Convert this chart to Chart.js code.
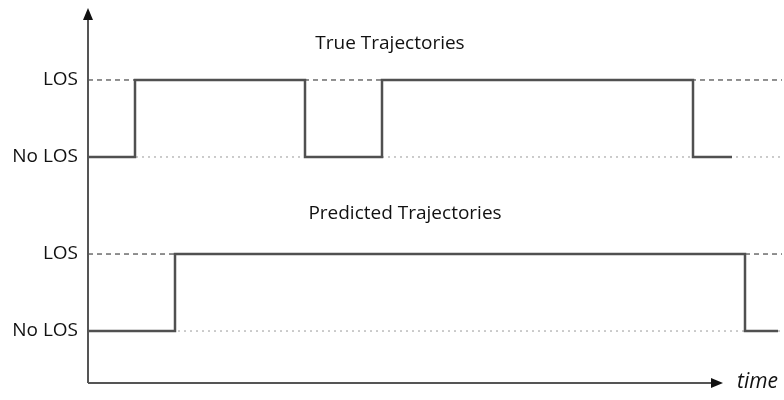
<!DOCTYPE html>
<html>
<head>
<meta charset="utf-8">
<title>True vs Predicted Trajectories</title>
<script src="https://cdn.jsdelivr.net/npm/chart.js@4.4.0/dist/chart.umd.min.js"></script>
<style>
  html, body { margin: 0; padding: 0; background: #fff; }
  #wrap { width: 784px; height: 400px; }
</style>
</head>
<body>
<div id="wrap"><canvas id="trajChart" width="784" height="400"></canvas></div>
<script>
// state levels (bottom band = predicted, top band = true)
const levelValues = [0, 1, 2.26, 3.26];
const levelLabels = ['No LOS', 'LOS', 'No LOS', 'LOS'];

// true trajectory: time where each state starts, and the state
const trueTimes = [0, 47, 217, 294, 605, 644];
const trueStates = [2.26, 3.26, 2.26, 3.26, 2.26, 2.26];

// predicted trajectory
const predTimes = [0, 87, 657, 690];
const predStates = [0, 1, 0, 0];

const timeEnd = 694;
const panelTitles = ['True Trajectories', 'Predicted Trajectories'];
const titleAt = [[302, 3.73], [317, 1.53]];

function toPoints(xs, ys) {
    return xs.map((x, i) => ({ x: x, y: ys[i] }));
}

function refLine(level, dash, color) {
    return {
        data: [{ x: 0, y: level }, { x: timeEnd, y: level }],
        borderColor: color,
        borderWidth: 1,
        borderDash: dash,
        pointRadius: 0,
        fill: false
    };
}

// axes with arrow heads + panel captions
const axesPlugin = {
    id: 'arrowAxes',
    afterDatasetsDraw(chart) {
        const ctx = chart.ctx;
        const area = chart.chartArea;
        const xs = chart.scales.x;
        const ys = chart.scales.y;
        ctx.save();
        ctx.strokeStyle = '#555';
        ctx.fillStyle = '#111';
        ctx.lineWidth = 2;

        // y axis
        ctx.beginPath();
        ctx.moveTo(area.left, area.bottom);
        ctx.lineTo(area.left, area.top + 10);
        ctx.stroke();
        ctx.beginPath();
        ctx.moveTo(area.left, area.top);
        ctx.lineTo(area.left - 5, area.top + 12);
        ctx.lineTo(area.left + 5, area.top + 12);
        ctx.closePath();
        ctx.fill();

        // x axis
        const tipX = xs.getPixelForValue(635);
        ctx.beginPath();
        ctx.moveTo(area.left, area.bottom);
        ctx.lineTo(tipX - 10, area.bottom);
        ctx.stroke();
        ctx.beginPath();
        ctx.moveTo(tipX, area.bottom);
        ctx.lineTo(tipX - 12, area.bottom - 5);
        ctx.lineTo(tipX - 12, area.bottom + 5);
        ctx.closePath();
        ctx.fill();

        ctx.font = 'italic 21px "Open Sans"';
        ctx.textAlign = 'left';
        ctx.textBaseline = 'middle';
        ctx.fillText('time', tipX + 14, area.bottom - 1);

        ctx.font = '19px "Open Sans"';
        ctx.textAlign = 'center';
        panelTitles.forEach((t, i) => {
            ctx.fillText(t, xs.getPixelForValue(titleAt[i][0]), ys.getPixelForValue(titleAt[i][1]));
        });
        ctx.restore();
    }
};

new Chart(document.getElementById('trajChart'), {
    type: 'line',
    data: {
        datasets: [
            {
                data: toPoints(trueTimes, trueStates),
                stepped: true,
                borderColor: '#505050',
                borderWidth: 2.5,
                pointRadius: 0,
                fill: false
            },
            {
                data: toPoints(predTimes, predStates),
                stepped: true,
                borderColor: '#505050',
                borderWidth: 2.5,
                pointRadius: 0,
                fill: false
            },
            refLine(levelValues[3], [5, 4], '#222'),
            refLine(levelValues[1], [5, 4], '#222'),
            refLine(levelValues[2], [2, 4], '#999'),
            refLine(levelValues[0], [2, 4], '#999')
        ]
    },
    plugins: [axesPlugin],
    options: {
        responsive: false,
        animation: false,
        layout: { padding: { top: 8, right: 2, bottom: 17, left: 0 } },
        plugins: {
            legend: { display: false },
            tooltip: { enabled: false }
        },
        scales: {
            x: {
                type: 'linear',
                min: 0,
                max: timeEnd,
                display: false
            },
            y: {
                type: 'linear',
                min: -0.675,
                max: 4.195,
                grid: { display: false },
                border: { display: false },
                afterFit(scale) {
                    scale.width = 88;
                    scale.paddingTop = 0;
                    scale.paddingBottom = 0;
                },
                afterBuildTicks(scale) {
                    scale.ticks = levelValues.map(v => ({ value: v }));
                },
                ticks: {
                    autoSkip: false,
                    padding: 2,
                    color: '#111',
                    font: { family: 'Open Sans', size: 19 },
                    callback: (v, i) => levelLabels[i]
                }
            }
        }
    }
});
</script>
</body>
</html>
